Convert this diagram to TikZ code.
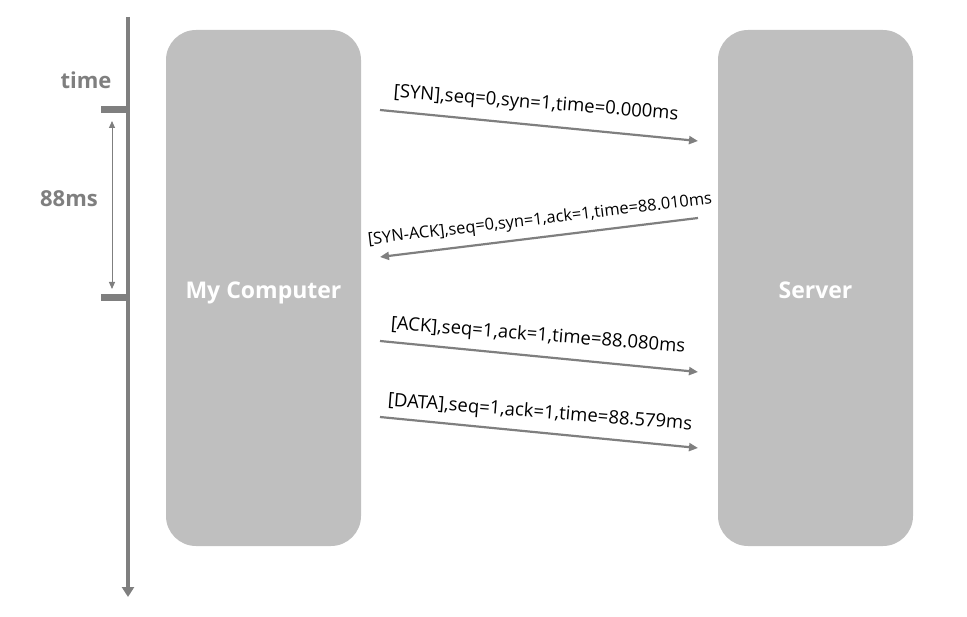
\documentclass[tikz,border=0pt]{standalone}
\usepackage{fontspec}
\setmainfont{Open Sans}
\usetikzlibrary{arrows.meta,positioning}
\definecolor{boxgray}{HTML}{BFBFBF}
\definecolor{linegray}{HTML}{7F7F7F}
\begin{document}
\begin{tikzpicture}[
    x=1pt, y=-1pt, font=\fontsize{18.5}{22}\selectfont,
    host/.style={fill=boxgray, rounded corners=30pt, minimum width=195pt,
      minimum height=516pt, text=white, text height=20.4pt, text depth=0pt,
      font=\fontsize{23}{26}\selectfont\bfseries},
    msg/.style={draw=linegray, line width=2.2pt,
      -{Triangle[length=9pt,width=8pt]}},
    lbl/.style={inner sep=0pt, text=black}]

    \useasboundingbox (0,0) rectangle (967,617);

    % hosts

    \node[host] (pc) at (263.5,288) {My Computer};
    \node[host] (srv) at (815.5,288) {Server};

    % time axis

    \coordinate (t0) at (128,17);
    \coordinate (t1) at (128,597);
    \coordinate (k0) at (101,110);
    \coordinate (k1) at (101,298);
    \coordinate (d0) at (112,121);
    \coordinate (d1) at (112,289);

    \draw[linegray, line width=4pt, -{Triangle[length=10pt,width=12pt]}] (t0) to (t1);
    \draw[linegray, line width=7pt] (k0) to ++(27,0);
    \draw[linegray, line width=7pt] (k1) to ++(27,0);
    \draw[linegray, line width=0.9pt,
      {Triangle[length=7pt,width=6pt]}-{Triangle[length=7pt,width=6pt]}] (d0) to (d1);

    \node[text=linegray, font=\fontsize{22}{25}\selectfont\bfseries, anchor=east] (time) at (115,80) {time};
    \node[text=linegray, font=\fontsize{22}{25}\selectfont\bfseries] (dur) at (69,199) {88ms};

    % messages

    \coordinate (a0) at (380,110);
    \coordinate (a1) at (698,141);
    \coordinate (b0) at (698,218);
    \coordinate (b1) at (380,257);
    \coordinate (c0) at (380,341);
    \coordinate (c1) at (698,372);
    \coordinate (e0) at (380,417);
    \coordinate (e1) at (698,448);

    \draw[msg] (a0) to (a1);
    \draw[msg] (b0) to (b1);
    \draw[msg] (c0) to (c1);
    \draw[msg] (e0) to (e1);

    \node[lbl, rotate=-4.5] (syn) at (536,104) {[SYN],seq=0,syn=1,time=0.000ms};
    \node[lbl, rotate=6.8, font=\fontsize{16.4}{19}\selectfont] (synack) at (540,220) {[SYN-ACK],seq=0,syn=1,ack=1,time=88.010ms};
    \node[lbl, rotate=-4.5] (ack) at (538,336) {[ACK],seq=1,ack=1,time=88.080ms};
    \node[lbl, rotate=-4.5] (data) at (540,413) {[DATA],seq=1,ack=1,time=88.579ms};
  \end{tikzpicture}
\end{document}
